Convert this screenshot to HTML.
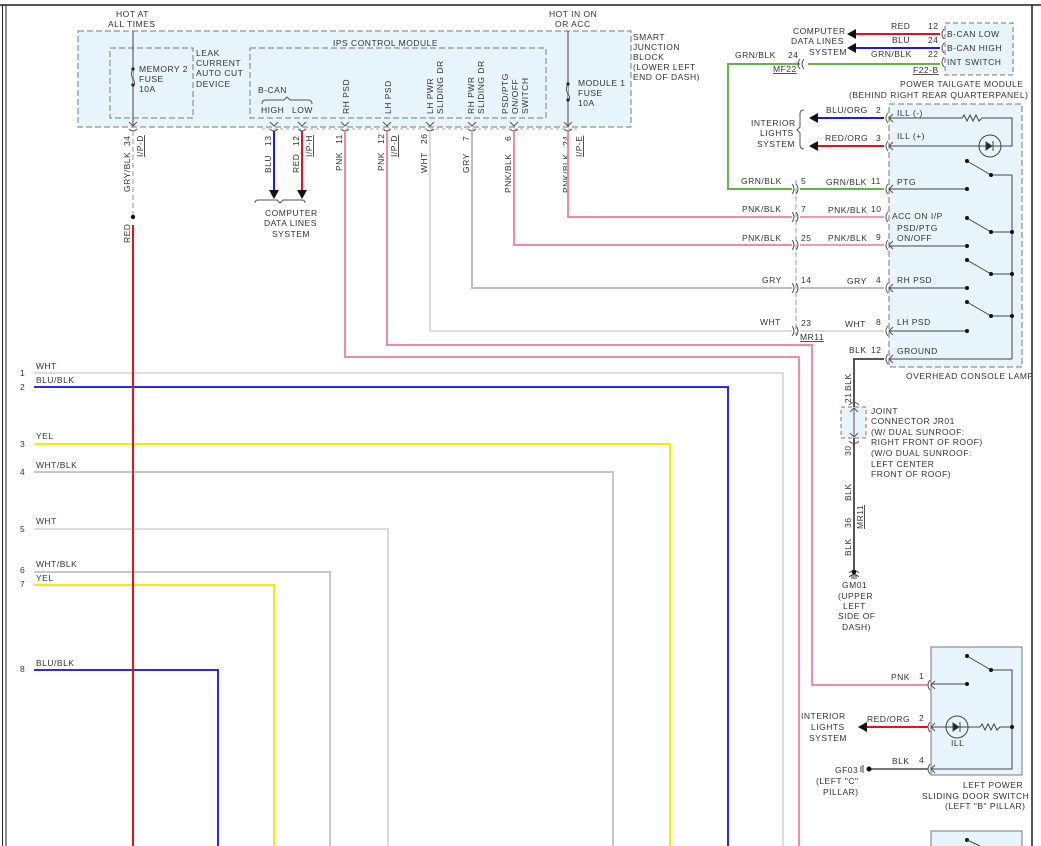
<!DOCTYPE html>
<html><head><meta charset="utf-8"><style>
html,body{margin:0;padding:0;background:#fff}
svg{display:block}
text{font-family:"Liberation Sans",Arial,sans-serif;font-size:8.5px;fill:#333;letter-spacing:0.5px}
.b{stroke:#444;stroke-width:1;fill:none}
.c{stroke:#555;stroke-width:1;fill:none}
</style></head><body>
<svg width="1041" height="846" viewBox="0 0 1041 846" xmlns="http://www.w3.org/2000/svg">
<line x1="0" y1="5" x2="1041" y2="5" stroke="#222" stroke-width="1.5"/>
<line x1="2.5" y1="5" x2="2.5" y2="846" stroke="#222" stroke-width="1"/>
<line x1="6" y1="5" x2="6" y2="846" stroke="#222" stroke-width="1"/>
<line x1="1032" y1="5" x2="1032" y2="846" stroke="#222" stroke-width="1.5"/>

<rect x="78" y="31" width="553" height="96" fill="#e8f4fb" stroke="#777" stroke-dasharray="6,3"/>
<rect x="110" y="48" width="83" height="70" fill="none" stroke="#777" stroke-dasharray="6,3"/>
<rect x="250" y="48" width="296" height="70" fill="none" stroke="#777" stroke-dasharray="6,3"/>
<text x="116" y="17">HOT AT</text><text x="108" y="27">ALL TIMES</text>
<text x="549" y="17">HOT IN ON</text><text x="555" y="27">OR ACC</text>
<text x="633" y="40">SMART</text><text x="633" y="50">JUNCTION</text><text x="633" y="60">BLOCK</text><text x="633" y="70">(LOWER LEFT</text><text x="633" y="80">END OF DASH)</text>
<text x="196" y="56">LEAK</text><text x="196" y="66">CURRENT</text><text x="196" y="76">AUTO CUT</text><text x="196" y="87">DEVICE</text>
<text x="139" y="72">MEMORY 2</text><text x="139" y="82">FUSE</text><text x="139" y="92">10A</text>
<text x="333" y="46">IPS CONTROL MODULE</text>
<text x="578" y="86">MODULE 1</text><text x="578" y="96">FUSE</text><text x="578" y="106">10A</text>
<text x="258" y="93">B-CAN</text>
<text x="261" y="113">HIGH</text><text x="292" y="113">LOW</text>
<path d="M262,104 q0,-4 4,-4 h18 l3,-3 l3,3 h18 q4,0 4,4" class="c"/>
<g transform="rotate(-90)">
<text x="-114" y="349">RH PSD</text>
<text x="-114" y="391">LH PSD</text>
<text x="-114" y="433">LH PWR</text><text x="-114" y="443">SLIDING DR</text>
<text x="-114" y="474">RH PWR</text><text x="-114" y="484">SLIDING DR</text>
<text x="-114" y="508">PSD/PTG</text><text x="-114" y="518">ON/OFF</text><text x="-114" y="528">SWITCH</text>
</g>
<line x1="133" y1="31" x2="133" y2="127" class="b"/>
<line x1="568" y1="31" x2="568" y2="127" class="b"/>
<path d="M133,69 q-3,5 0,10 q3,5 0,6" fill="#e8f4fb" stroke="#444"/>
<circle cx="133" cy="69" r="1.6" fill="#222"/><circle cx="133" cy="85" r="1.6" fill="#222"/>
<path d="M568,84 q-3,5 0,10 q3,5 0,6" fill="#e8f4fb" stroke="#444"/>
<circle cx="568" cy="84" r="1.6" fill="#222"/><circle cx="568" cy="100" r="1.6" fill="#222"/>
<g class="c">
<path d="M129,122 l4,4 l4,-4 M129,129 q4,4 8,0"/>
<path d="M270,122 l4,4 l4,-4 M270,129 q4,4 8,0"/>
<path d="M298,122 l4,4 l4,-4 M298,129 q4,4 8,0"/>
<path d="M341,122 l4,4 l4,-4 M341,129 q4,4 8,0"/>
<path d="M383,122 l4,4 l4,-4 M383,129 q4,4 8,0"/>
<path d="M426,122 l4,4 l4,-4 M426,129 q4,4 8,0"/>
<path d="M468,122 l4,4 l4,-4 M468,129 q4,4 8,0"/>
<path d="M510,122 l4,4 l4,-4 M510,129 q4,4 8,0"/>
<path d="M564,122 l4,4 l4,-4 M564,129 q4,4 8,0"/>
</g>
<line x1="262" y1="129" x2="580" y2="129" stroke="#aaa" stroke-dasharray="3,3"/>
<g transform="rotate(-90)">
<text x="-192" y="130">GRY/BLK</text><text x="-146" y="130">34</text>
<text x="-157" y="143" text-decoration="underline">I/P-D</text>
<text x="-173" y="271">BLU</text><text x="-146" y="271">13</text>
<text x="-173" y="299">RED</text><text x="-146" y="299">12</text>
<text x="-157" y="312" text-decoration="underline">I/P-H</text>
<text x="-171" y="342">PNK</text><text x="-144" y="342">11</text>
<text x="-171" y="384">PNK</text><text x="-144" y="384">12</text>
<text x="-157" y="397" text-decoration="underline">I/P-D</text>
<text x="-173" y="427">WHT</text><text x="-144" y="427">26</text>
<text x="-173" y="469">GRY</text><text x="-141" y="469">7</text>
<text x="-193" y="511">PNK/BLK</text><text x="-141" y="511">6</text>
<text x="-193" y="569">PNK/BLK</text><text x="-146" y="569">24</text>
<text x="-157" y="582" text-decoration="underline">I/P-E</text>
<text x="-243" y="130">RED</text>
</g>
<line x1="133" y1="131" x2="133" y2="215" stroke="#bbb" stroke-width="1.5" stroke-dasharray="5,3"/>
<circle cx="133" cy="217" r="2.2" fill="#111"/>
<line x1="274" y1="131" x2="274" y2="192" stroke="#1a1aee" stroke-width="2"/>
<line x1="302" y1="131" x2="302" y2="192" stroke="#e8101a" stroke-width="2"/>
<path d="M269,190 h10 l-5,9 z" fill="#111"/><path d="M297,190 h10 l-5,9 z" fill="#111"/>
<path d="M255,203 q0,-3 3,-3 h19 l3,3 l3,-3 h19 q3,0 3,3" class="c"/>
<text x="265" y="216">COMPUTER</text><text x="264" y="226">DATA LINES</text><text x="272" y="237">SYSTEM</text>
<g fill="none" stroke-width="2">
<polyline points="345,131 345,357 799,357 799,846" stroke="#f08ca2"/>
<polyline points="387,131 387,345 812,345 812,685 928,685" stroke="#f08ca2"/>
<polyline points="430,131 430,331 792,331" stroke="#dcdcdc"/>
<polyline points="800,331 884,331" stroke="#dcdcdc"/>
<polyline points="472,131 472,288 792,288" stroke="#bdbdbd"/>
<polyline points="800,288 884,288" stroke="#bdbdbd"/>
<polyline points="514,131 514,245 792,245" stroke="#f08ca2"/>
<polyline points="800,245 884,245" stroke="#e8a0ae"/>
<polyline points="568,131 568,217 792,217" stroke="#f08ca2"/>
<polyline points="800,217 884,217" stroke="#e8a0ae"/>
<polyline points="792,189 728,189 728,64 800,64" stroke="#66b34a"/>
<polyline points="800,189 884,189" stroke="#66b34a"/>
<polyline points="808,64 940,64" stroke="#66b34a"/>
<line x1="855" y1="34" x2="940" y2="34" stroke="#e8101a"/>
<line x1="855" y1="48" x2="940" y2="48" stroke="#1a1aee"/>
<line x1="818" y1="118" x2="884" y2="118" stroke="#1a1aee"/>
<line x1="818" y1="146" x2="884" y2="146" stroke="#e8101a"/>
<polyline points="884,359 854,359 854,575" stroke="#555"/>
<line x1="865" y1="727" x2="928" y2="727" stroke="#e8101a"/>
<line x1="870" y1="769" x2="928" y2="769" stroke="#777"/>
<polyline points="34,373 783,373 783,846" stroke="#dcdcdc"/>
<polyline points="34,387 728,387 728,846" stroke="#2a2ae8"/>
<polyline points="34,444 670,444 670,846" stroke="#f2f000"/>
<polyline points="34,472 613,472 613,846" stroke="#c8c8c8"/>
<polyline points="34,529 388,529 388,846" stroke="#dcdcdc"/>
<polyline points="34,572 330,572 330,846" stroke="#c8c8c8"/>
<polyline points="34,585 274,585 274,846" stroke="#f2f000"/>
<polyline points="34,670 218,670 218,846" stroke="#2a2ae8"/>
</g>
<line x1="133" y1="225" x2="133" y2="846" stroke="#e8101a" stroke-width="2"/>
<g>
<text x="20" y="376">1</text><text x="36" y="369">WHT</text>
<text x="20" y="390">2</text><text x="36" y="383">BLU/BLK</text>
<text x="20" y="447">3</text><text x="36" y="439">YEL</text>
<text x="20" y="475">4</text><text x="36" y="468">WHT/BLK</text>
<text x="20" y="532">5</text><text x="36" y="524">WHT</text>
<text x="20" y="573">6</text><text x="36" y="567">WHT/BLK</text>
<text x="20" y="587">7</text><text x="36" y="581">YEL</text>
<text x="20" y="672">8</text><text x="36" y="666">BLU/BLK</text>
</g>
<line x1="796" y1="180" x2="796" y2="335" stroke="#999" stroke-dasharray="5,3"/>
<g class="c">
<path d="M792,184 q4,5 0,10 M796,184 q4,5 0,10"/>
<path d="M792,212 q4,5 0,10 M796,212 q4,5 0,10"/>
<path d="M792,240 q4,5 0,10 M796,240 q4,5 0,10"/>
<path d="M792,283 q4,5 0,10 M796,283 q4,5 0,10"/>
<path d="M792,326 q4,5 0,10 M796,326 q4,5 0,10"/>
<path d="M800,59 q-4,5 0,10 M804,59 q-4,5 0,10"/>
</g>
<text x="741" y="184">GRN/BLK</text><text x="801" y="184">5</text><text x="826" y="185">GRN/BLK</text><text x="871" y="184">11</text>
<text x="742" y="212">PNK/BLK</text><text x="801" y="212">7</text><text x="828" y="213">PNK/BLK</text><text x="871" y="212">10</text>
<text x="742" y="241">PNK/BLK</text><text x="801" y="241">25</text><text x="828" y="241">PNK/BLK</text><text x="876" y="240">9</text>
<text x="762" y="283">GRY</text><text x="801" y="283">14</text><text x="847" y="284">GRY</text><text x="876" y="283">4</text>
<text x="760" y="325">WHT</text><text x="801" y="326">23</text><text x="845" y="327">WHT</text><text x="876" y="325">8</text>
<text x="800" y="340" text-decoration="underline">MR11</text>
<text x="735" y="58">GRN/BLK</text><text x="788" y="58">24</text>
<text x="773" y="72" text-decoration="underline">MF22</text>
<rect x="945" y="23" width="68" height="52" fill="#e8f4fb" stroke="#777" stroke-dasharray="5,3"/>
<g class="c">
<path d="M944,29 q-4,5 0,10"/><path d="M944,43 q-4,5 0,10"/><path d="M944,57 q-4,5 0,10"/>
</g>
<text x="947" y="37">B-CAN LOW</text><text x="947" y="51">B-CAN HIGH</text><text x="947" y="65">INT SWITCH</text>
<text x="891" y="29">RED</text><text x="928" y="29">12</text>
<text x="892" y="43">BLU</text><text x="928" y="43">24</text>
<text x="871" y="57">GRN/BLK</text><text x="928" y="57">22</text>
<text x="913" y="73" text-decoration="underline">F22-B</text>
<path d="M856,29 v10 l-9,-5 z" fill="#111"/><path d="M856,43 v10 l-9,-5 z" fill="#111"/>
<text x="793" y="34">COMPUTER</text><text x="791" y="44">DATA LINES</text><text x="809" y="55">SYSTEM</text>
<text x="900" y="87">POWER TAILGATE MODULE</text>
<text x="849" y="98">(BEHIND RIGHT REAR QUARTERPANEL)</text>
<rect x="889" y="104" width="133" height="263" fill="#e8f4fb" stroke="#777" stroke-dasharray="6,3"/>
<g class="c">
<path d="M888,113 q-4,5 0,10 M893,114 l-4,4 l4,4"/>
<path d="M888,141 q-4,5 0,10 M893,142 l-4,4 l4,4"/>
<path d="M888,184 q-4,5 0,10 M893,185 l-4,4 l4,4"/>
<path d="M888,212 q-4,5 0,10"/>
<path d="M888,240 q-4,5 0,10 M893,241 l-4,4 l4,4"/>
<path d="M888,283 q-4,5 0,10 M893,284 l-4,4 l4,4"/>
<path d="M888,326 q-4,5 0,10 M893,327 l-4,4 l4,4"/>
<path d="M888,354 q-4,5 0,10 M893,355 l-4,4 l4,4"/>
</g>
<g stroke="#444" fill="none">
<polyline points="889,118 962,118 964,115 967,121 970,115 973,121 976,115 979,121 982,118 1012,118 1012,146 889,146"/>
<circle cx="990" cy="146" r="11"/>
<path d="M986,142 v8 l6,-4 z" fill="#222"/><line x1="993" y1="141" x2="993" y2="151"/>
<line x1="889" y1="189" x2="967" y2="189"/><line x1="889" y1="246" x2="967" y2="246"/>
<line x1="889" y1="288" x2="967" y2="288"/><line x1="889" y1="331" x2="967" y2="331"/>
<line x1="889" y1="359" x2="1012" y2="359"/>
<line x1="1012" y1="175" x2="1012" y2="359"/>
<line x1="967" y1="161" x2="991" y2="175"/><line x1="991" y1="175" x2="1012" y2="175"/>
<line x1="967" y1="218" x2="991" y2="232"/><line x1="991" y1="232" x2="1012" y2="232"/>
<line x1="967" y1="260" x2="991" y2="274"/><line x1="991" y1="274" x2="1012" y2="274"/>
<line x1="967" y1="302" x2="991" y2="316"/><line x1="991" y1="316" x2="1012" y2="316"/>
</g>
<g fill="#111">
<circle cx="967" cy="161" r="2"/><circle cx="991" cy="175" r="2"/><circle cx="967" cy="189" r="2"/>
<circle cx="967" cy="218" r="2"/><circle cx="991" cy="232" r="2"/><circle cx="1012" cy="232" r="2"/><circle cx="967" cy="246" r="2"/>
<circle cx="967" cy="260" r="2"/><circle cx="991" cy="274" r="2"/><circle cx="1012" cy="274" r="2"/><circle cx="967" cy="288" r="2"/>
<circle cx="967" cy="302" r="2"/><circle cx="991" cy="316" r="2"/><circle cx="1012" cy="316" r="2"/><circle cx="967" cy="331" r="2"/>
</g>
<text x="897" y="116">ILL (-)</text><text x="897" y="139">ILL (+)</text>
<text x="897" y="185">PTG</text><text x="892" y="219">ACC ON I/P</text>
<text x="897" y="231">PSD/PTG</text><text x="897" y="241">ON/OFF</text>
<text x="897" y="283">RH PSD</text><text x="897" y="325">LH PSD</text><text x="897" y="354">GROUND</text>
<text x="906" y="379">OVERHEAD CONSOLE LAMP</text>
<text x="826" y="113">BLU/ORG</text><text x="876" y="113">2</text>
<text x="825" y="141">RED/ORG</text><text x="876" y="141">3</text>
<path d="M818,113 v10 l-9,-5 z" fill="#111"/><path d="M818,141 v10 l-9,-5 z" fill="#111"/>
<path d="M804,110 q-4,0 -4,4 v13 l-3,3 l3,3 v12 q0,4 4,4" class="c"/>
<text x="751" y="126">INTERIOR</text><text x="760" y="136">LIGHTS</text><text x="757" y="147">SYSTEM</text>
<text x="849" y="353">BLK</text><text x="871" y="353">12</text>
<rect x="841" y="407" width="25" height="31" fill="#e8f4fb" stroke="#777" stroke-dasharray="4,3"/>
<line x1="854" y1="408" x2="854" y2="437" stroke="#555"/>
<path d="M850,412 l4,-4 l4,4 M850,433 l4,4 l4,-4 M849,405 q5,-5 10,0 M849,441 q5,5 10,0" class="c"/>
<path d="M849,573 q5,-5 10,0 M849,577 q5,-5 10,0" class="c"/>
<g transform="rotate(-90)">
<text x="-391" y="851">BLK</text><text x="-403" y="851">21</text>
<text x="-456" y="851">30</text>
<text x="-501" y="851">BLK</text><text x="-528" y="851">36</text>
<text x="-529" y="863" text-decoration="underline">MR11</text>
<text x="-556" y="851">BLK</text>
</g>
<text x="871" y="414">JOINT</text><text x="871" y="424">CONNECTOR JR01</text>
<text x="871" y="435">(W/ DUAL SUNROOF:</text><text x="871" y="445">RIGHT FRONT OF ROOF)</text>
<text x="871" y="456">(W/O DUAL SUNROOF:</text><text x="871" y="467">LEFT CENTER</text><text x="871" y="477">FRONT OF ROOF)</text>
<circle cx="854" cy="572" r="2.3" fill="#111"/>
<line x1="850" y1="576" x2="858" y2="576" stroke="#444"/><line x1="851" y1="578" x2="857" y2="578" stroke="#444"/>
<text x="842" y="588">GM01</text><text x="838" y="599">(UPPER</text><text x="843" y="609">LEFT</text><text x="838" y="619">SIDE OF</text><text x="842" y="630">DASH)</text>
<rect x="931" y="647" width="91" height="128" fill="#e8f4fb" stroke="#777"/>
<g class="c">
<path d="M930,680 q-4,5 0,10 M935,681 l-4,4 l4,4"/>
<path d="M930,722 q-4,5 0,10 M935,723 l-4,4 l4,4"/>
<path d="M930,764 q-4,5 0,10 M935,765 l-4,4 l4,4"/>
</g>
<g stroke="#444" fill="none">
<line x1="931" y1="684" x2="967" y2="684"/>
<line x1="967" y1="656" x2="991" y2="670"/><polyline points="991,670 1012,670 1012,769 931,769"/>
<polyline points="931,727 980,727 982,724 985,730 988,724 991,730 994,724 997,730 1000,727 1012,727"/>
<circle cx="957" cy="727" r="11"/>
<path d="M953,723 v8 l6,-4 z" fill="#222"/><line x1="960" y1="722" x2="960" y2="732"/>
</g>
<g fill="#111"><circle cx="967" cy="656" r="2"/><circle cx="991" cy="670" r="2"/><circle cx="967" cy="684" r="2"/><circle cx="1012" cy="727" r="2"/></g>
<text x="951" y="746">ILL</text>
<text x="891" y="680">PNK</text><text x="919" y="679">1</text>
<text x="867" y="722">RED/ORG</text><text x="919" y="721">2</text>
<text x="892" y="764">BLK</text><text x="919" y="763">4</text>
<path d="M867,722 v10 l-9,-5 z" fill="#111"/>
<text x="801" y="719">INTERIOR</text><text x="811" y="730">LIGHTS</text><text x="809" y="741">SYSTEM</text>
<circle cx="869" cy="769" r="2.5" fill="#111"/>
<line x1="863" y1="765" x2="863" y2="773" stroke="#444"/><line x1="861" y1="766" x2="861" y2="772" stroke="#444"/>
<text x="835" y="773">GF03</text><text x="816" y="784">(LEFT "C"</text><text x="823" y="795">PILLAR)</text>
<text x="963" y="788">LEFT POWER</text><text x="922" y="799">SLIDING DOOR SWITCH</text><text x="945" y="809">(LEFT "B" PILLAR)</text>
<rect x="931" y="831" width="91" height="30" fill="#e8f4fb" stroke="#777"/>
<circle cx="967" cy="840" r="2" fill="#111"/><line x1="967" y1="840" x2="980" y2="846" stroke="#444"/>
</svg>
</body></html>
